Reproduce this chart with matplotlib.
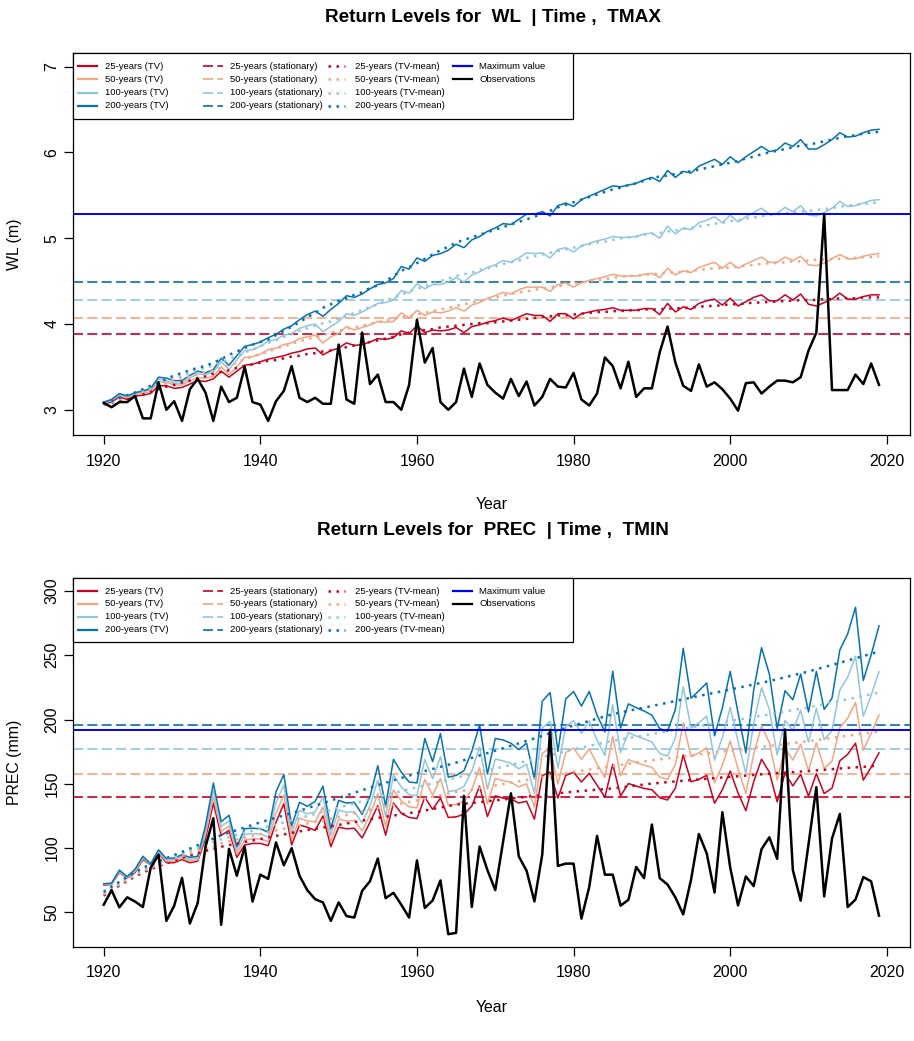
import matplotlib
matplotlib.use("Agg")
import matplotlib.pyplot as plt
from matplotlib.patches import Rectangle
from matplotlib.lines import Line2D

plt.rcParams['font.family'] = ['Liberation Sans', 'DejaVu Sans']

years = list(range(1920, 2020))

# ---------------- top panel: WL | Time, TMAX ----------------
wl_obs = [3.08, 3.03, 3.09, 3.09, 3.16, 2.90, 2.90, 3.32, 3.00, 3.10,
          2.87, 3.24, 3.36, 3.20, 2.87, 3.27, 3.09, 3.14, 3.50, 3.09,
          3.06, 2.87, 3.10, 3.22, 3.51, 3.14, 3.09, 3.14, 3.07, 3.07,
          3.76, 3.12, 3.07, 3.90, 3.30, 3.41, 3.09, 3.09, 3.00, 3.29,
          4.05, 3.55, 3.72, 3.09, 3.00, 3.09, 3.48, 3.15, 3.54, 3.29,
          3.20, 3.13, 3.36, 3.16, 3.33, 3.05, 3.15, 3.36, 3.27, 3.26,
          3.43, 3.12, 3.05, 3.19, 3.61, 3.51, 3.25, 3.56, 3.15, 3.25,
          3.25, 3.67, 3.97, 3.55, 3.28, 3.22, 3.53, 3.27, 3.32, 3.24,
          3.13, 2.99, 3.31, 3.32, 3.19, 3.27, 3.34, 3.34, 3.32, 3.38,
          3.69, 3.90, 5.28, 3.23, 3.23, 3.23, 3.41, 3.30, 3.54, 3.29]

wl_tv25 = [3.07, 3.09, 3.15, 3.12, 3.16, 3.17, 3.19, 3.28, 3.28, 3.25,
           3.26, 3.30, 3.34, 3.33, 3.36, 3.45, 3.38, 3.45, 3.52, 3.53,
           3.56, 3.59, 3.61, 3.63, 3.66, 3.68, 3.71, 3.72, 3.64, 3.69,
           3.72, 3.78, 3.75, 3.76, 3.79, 3.83, 3.82, 3.84, 3.92, 3.89,
           3.98, 3.90, 3.93, 3.92, 3.93, 3.96, 3.90, 3.97, 3.99, 4.02,
           4.04, 4.07, 4.04, 4.08, 4.12, 4.10, 4.10, 4.03, 4.12, 4.12,
           4.06, 4.12, 4.14, 4.16, 4.17, 4.19, 4.16, 4.16, 4.16, 4.18,
           4.18, 4.11, 4.24, 4.14, 4.20, 4.17, 4.24, 4.27, 4.29, 4.22,
           4.30, 4.21, 4.26, 4.31, 4.34, 4.27, 4.27, 4.34, 4.28, 4.35,
           4.23, 4.21, 4.25, 4.29, 4.36, 4.29, 4.29, 4.32, 4.34, 4.34]
wl_tv50 = [3.08, 3.11, 3.17, 3.14, 3.18, 3.19, 3.21, 3.33, 3.32, 3.29,
           3.29, 3.34, 3.37, 3.37, 3.39, 3.50, 3.41, 3.50, 3.61, 3.62,
           3.65, 3.70, 3.72, 3.76, 3.78, 3.83, 3.85, 3.87, 3.78, 3.85,
           3.89, 3.97, 3.93, 3.96, 3.99, 4.03, 4.02, 4.03, 4.13, 4.07,
           4.16, 4.10, 4.14, 4.13, 4.15, 4.19, 4.15, 4.22, 4.25, 4.30,
           4.33, 4.37, 4.35, 4.40, 4.43, 4.43, 4.43, 4.38, 4.46, 4.48,
           4.43, 4.48, 4.51, 4.53, 4.55, 4.58, 4.56, 4.56, 4.56, 4.58,
           4.59, 4.54, 4.65, 4.57, 4.62, 4.60, 4.66, 4.69, 4.72, 4.65,
           4.72, 4.65, 4.70, 4.74, 4.78, 4.72, 4.72, 4.78, 4.74, 4.79,
           4.69, 4.68, 4.71, 4.76, 4.81, 4.76, 4.76, 4.79, 4.81, 4.82]
wl_tv100 = [3.08, 3.11, 3.18, 3.15, 3.19, 3.21, 3.23, 3.36, 3.34, 3.31,
            3.31, 3.37, 3.42, 3.41, 3.44, 3.56, 3.47, 3.58, 3.69, 3.70,
            3.74, 3.80, 3.82, 3.87, 3.89, 3.95, 3.98, 4.00, 3.91, 3.97,
            4.03, 4.12, 4.10, 4.14, 4.19, 4.24, 4.25, 4.28, 4.39, 4.36,
            4.47, 4.41, 4.46, 4.46, 4.49, 4.54, 4.49, 4.57, 4.61, 4.66,
            4.69, 4.74, 4.72, 4.77, 4.83, 4.82, 4.83, 4.77, 4.87, 4.89,
            4.84, 4.91, 4.94, 4.97, 4.99, 5.02, 5.01, 5.01, 5.02, 5.05,
            5.06, 5.00, 5.14, 5.05, 5.12, 5.10, 5.18, 5.21, 5.25, 5.18,
            5.27, 5.19, 5.25, 5.30, 5.35, 5.28, 5.29, 5.36, 5.31, 5.38,
            5.27, 5.26, 5.30, 5.35, 5.43, 5.37, 5.38, 5.41, 5.44, 5.45]
wl_tv200 = [3.09, 3.12, 3.19, 3.16, 3.20, 3.22, 3.25, 3.38, 3.37, 3.34,
            3.34, 3.40, 3.45, 3.43, 3.47, 3.60, 3.52, 3.63, 3.74, 3.76,
            3.79, 3.84, 3.88, 3.94, 3.98, 4.05, 4.11, 4.15, 4.09, 4.17,
            4.24, 4.33, 4.31, 4.35, 4.41, 4.46, 4.48, 4.53, 4.67, 4.64,
            4.77, 4.73, 4.80, 4.82, 4.86, 4.93, 4.89, 4.98, 5.02, 5.08,
            5.12, 5.17, 5.16, 5.22, 5.28, 5.28, 5.31, 5.26, 5.38, 5.41,
            5.37, 5.45, 5.49, 5.53, 5.57, 5.61, 5.60, 5.62, 5.64, 5.68,
            5.71, 5.66, 5.79, 5.71, 5.78, 5.76, 5.84, 5.88, 5.92, 5.86,
            5.95, 5.88, 5.95, 6.01, 6.07, 6.01, 6.03, 6.11, 6.07, 6.15,
            6.04, 6.04, 6.09, 6.15, 6.23, 6.18, 6.19, 6.23, 6.26, 6.27]

wl_mean25 = [3.06, 3.08, 3.11, 3.13, 3.16, 3.18, 3.21, 3.24, 3.27, 3.29,
             3.32, 3.34, 3.37, 3.39, 3.42, 3.44, 3.46, 3.49, 3.51, 3.53,
             3.55, 3.57, 3.58, 3.60, 3.62, 3.63, 3.65, 3.66, 3.68, 3.69,
             3.71, 3.73, 3.75, 3.77, 3.79, 3.81, 3.83, 3.85, 3.88, 3.90,
             3.92, 3.93, 3.94, 3.96, 3.97, 3.98, 3.99, 4.00, 4.01, 4.01,
             4.02, 4.03, 4.04, 4.05, 4.06, 4.07, 4.08, 4.09, 4.10, 4.10,
             4.11, 4.12, 4.13, 4.14, 4.14, 4.15, 4.15, 4.16, 4.16, 4.17,
             4.17, 4.17, 4.18, 4.18, 4.19, 4.19, 4.20, 4.21, 4.21, 4.22,
             4.23, 4.23, 4.24, 4.25, 4.25, 4.26, 4.26, 4.27, 4.27, 4.28,
             4.28, 4.28, 4.29, 4.29, 4.30, 4.30, 4.30, 4.31, 4.31, 4.31]
wl_mean50 = [3.06, 3.09, 3.12, 3.15, 3.18, 3.21, 3.24, 3.28, 3.31, 3.34,
             3.37, 3.39, 3.41, 3.44, 3.46, 3.49, 3.52, 3.55, 3.59, 3.62,
             3.65, 3.68, 3.71, 3.74, 3.77, 3.80, 3.82, 3.85, 3.87, 3.90,
             3.92, 3.94, 3.96, 3.98, 4.00, 4.02, 4.04, 4.06, 4.08, 4.09,
             4.11, 4.13, 4.15, 4.17, 4.19, 4.21, 4.23, 4.25, 4.27, 4.29,
             4.31, 4.33, 4.35, 4.37, 4.38, 4.40, 4.41, 4.43, 4.44, 4.46,
             4.47, 4.48, 4.50, 4.51, 4.52, 4.54, 4.55, 4.56, 4.56, 4.57,
             4.58, 4.59, 4.60, 4.60, 4.61, 4.62, 4.63, 4.64, 4.65, 4.65,
             4.66, 4.67, 4.68, 4.69, 4.70, 4.71, 4.71, 4.72, 4.73, 4.73,
             4.74, 4.75, 4.75, 4.76, 4.76, 4.77, 4.77, 4.78, 4.78, 4.79]
wl_mean100 = [3.06, 3.09, 3.13, 3.16, 3.19, 3.23, 3.26, 3.30, 3.33, 3.37,
              3.40, 3.43, 3.46, 3.49, 3.52, 3.55, 3.59, 3.63, 3.67, 3.70,
              3.74, 3.78, 3.81, 3.85, 3.88, 3.92, 3.95, 3.98, 4.01, 4.03,
              4.06, 4.09, 4.13, 4.16, 4.20, 4.23, 4.27, 4.31, 4.34, 4.38,
              4.41, 4.44, 4.47, 4.50, 4.53, 4.56, 4.58, 4.60, 4.63, 4.65,
              4.67, 4.70, 4.72, 4.74, 4.77, 4.79, 4.81, 4.83, 4.85, 4.87,
              4.89, 4.91, 4.93, 4.95, 4.96, 4.98, 5.00, 5.01, 5.02, 5.04,
              5.05, 5.06, 5.08, 5.09, 5.11, 5.12, 5.14, 5.15, 5.17, 5.18,
              5.20, 5.21, 5.23, 5.24, 5.26, 5.27, 5.28, 5.29, 5.30, 5.31,
              5.32, 5.33, 5.34, 5.35, 5.37, 5.38, 5.39, 5.40, 5.41, 5.42]
wl_mean200 = [3.07, 3.10, 3.14, 3.17, 3.20, 3.24, 3.28, 3.32, 3.36, 3.40,
              3.43, 3.46, 3.49, 3.51, 3.55, 3.59, 3.64, 3.68, 3.72, 3.76,
              3.79, 3.82, 3.87, 3.92, 3.97, 4.02, 4.08, 4.13, 4.19, 4.23,
              4.27, 4.30, 4.34, 4.37, 4.42, 4.45, 4.50, 4.56, 4.62, 4.66,
              4.71, 4.76, 4.81, 4.86, 4.90, 4.95, 4.98, 5.01, 5.04, 5.07,
              5.10, 5.13, 5.16, 5.19, 5.22, 5.25, 5.29, 5.32, 5.36, 5.39,
              5.42, 5.45, 5.48, 5.51, 5.54, 5.57, 5.59, 5.62, 5.64, 5.67,
              5.70, 5.72, 5.73, 5.75, 5.77, 5.78, 5.80, 5.82, 5.84, 5.86,
              5.88, 5.90, 5.93, 5.95, 5.98, 6.00, 6.02, 6.04, 6.06, 6.08,
              6.09, 6.11, 6.13, 6.15, 6.17, 6.19, 6.20, 6.22, 6.23, 6.24]

wl_stationary = [3.888, 4.065, 4.275, 4.488]   # 25, 50, 100, 200 years
wl_max = 5.287

# ---------------- bottom panel: PREC | Time, TMIN ----------------
prec_obs = [55.9, 67.2, 53.9, 61.7, 58.4, 54.1, 84.8, 94.8, 43.3, 55.1,
            76.8, 41.3, 57.2, 101.1, 123.2, 40.3, 99.4, 78.5, 101.1, 58.4,
            79.3, 76.0, 104.4, 86.6, 99.9, 78.5, 67.2, 60.2, 57.7, 43.3,
            57.7, 47.1, 45.9, 66.7, 74.2, 91.8, 61.0, 65.2, 55.9, 45.9,
            90.4, 53.4, 59.2, 74.8, 33.0, 34.0, 140.6, 54.2, 101.2, 82.8,
            67.3, 105.0, 142.6, 93.6, 82.3, 58.5, 94.9, 192.0, 86.1, 87.9,
            87.9, 45.1, 69.8, 109.5, 79.3, 79.3, 55.2, 59.7, 85.3, 76.6,
            118.3, 76.6, 71.6, 61.6, 48.4, 75.4, 110.9, 95.9, 65.4, 127.9,
            84.9, 55.4, 77.9, 70.4, 99.1, 108.4, 91.6, 192.3, 82.9, 59.1,
            102.9, 147.4, 62.4, 107.4, 126.6, 54.1, 59.9, 77.4, 74.1, 47.4]

prec_tv25 = [71.0, 71.7, 81.0, 76.7, 81.0, 91.1, 86.8, 96.1, 88.6, 88.6,
             91.1, 88.6, 89.8, 107.4, 135.0, 109.9, 113.7, 92.8, 102.4, 103.6,
             103.6, 101.9, 120.0, 134.5, 102.4, 118.0, 116.2, 113.7, 125.0, 101.1,
             116.2, 115.0, 115.4, 107.9, 120.0, 133.0, 110.0, 135.1, 127.1, 123.8,
             123.0, 139.6, 130.1, 138.9, 123.8, 124.3, 126.3, 132.6, 148.2, 124.5,
             140.6, 138.9, 138.1, 135.1, 136.4, 122.5, 156.5, 159.0, 138.9, 156.5,
             159.0, 151.4, 158.2, 148.9, 139.6, 165.2, 140.6, 150.2, 148.2, 146.4,
             145.4, 139.1, 137.4, 146.6, 172.4, 151.6, 153.4, 156.6, 134.9, 145.4,
             159.9, 142.9, 129.1, 151.6, 169.1, 159.1, 135.9, 158.4, 148.4, 157.4,
             140.4, 157.9, 142.4, 146.6, 167.9, 172.9, 181.6, 152.9, 162.9, 174.1]
prec_tv50 = [71.4, 72.0, 81.5, 77.0, 81.8, 91.9, 87.1, 96.9, 89.6, 89.7,
             92.2, 89.9, 90.9, 110.4, 139.7, 113.1, 117.2, 95.3, 106.2, 107.2,
             107.0, 105.1, 127.1, 141.3, 106.8, 123.3, 121.1, 120.5, 131.9, 105.3,
             122.5, 121.0, 121.5, 113.4, 126.0, 142.3, 116.8, 145.3, 136.7, 132.1,
             131.3, 153.3, 141.3, 154.0, 133.2, 134.0, 136.5, 145.4, 162.5, 134.5,
             154.0, 152.5, 151.2, 147.6, 150.0, 131.9, 173.8, 177.6, 149.8, 174.4,
             177.8, 169.1, 177.3, 165.3, 154.8, 186.9, 156.4, 168.8, 166.5, 164.5,
             162.8, 155.2, 153.5, 165.0, 197.3, 171.1, 174.1, 178.1, 150.7, 164.5,
             183.2, 161.7, 142.6, 173.0, 195.1, 182.0, 153.0, 177.6, 168.5, 180.8,
             160.1, 181.8, 162.1, 167.6, 193.8, 201.0, 213.3, 176.2, 189.2, 203.7]
prec_tv100 = [71.8, 72.3, 82.2, 77.4, 82.6, 92.7, 87.4, 97.7, 90.7, 91.0,
              93.5, 91.3, 92.2, 113.9, 145.0, 116.7, 121.3, 98.1, 110.5, 111.2,
              110.9, 108.6, 135.2, 149.0, 111.7, 129.3, 126.6, 128.2, 139.8, 110.0,
              129.6, 127.8, 128.3, 119.6, 132.9, 152.8, 124.5, 156.8, 147.5, 141.5,
              140.7, 168.9, 153.9, 171.0, 143.9, 144.9, 148.0, 159.9, 178.7, 145.8,
              169.2, 167.8, 165.9, 161.7, 165.3, 142.6, 193.4, 198.7, 162.2, 194.6,
              199.2, 189.2, 198.9, 183.8, 172.1, 211.5, 174.4, 189.9, 187.2, 185.0,
              182.5, 173.5, 171.6, 185.8, 225.5, 193.2, 197.6, 202.6, 168.5, 186.2,
              209.5, 182.9, 157.9, 197.2, 224.7, 207.9, 172.4, 199.4, 191.3, 207.3,
              182.3, 208.8, 184.3, 191.4, 223.1, 232.9, 249.3, 202.5, 218.9, 237.3]
prec_tv200 = [72.2, 72.7, 82.8, 77.8, 83.5, 93.6, 87.8, 98.6, 91.8, 92.3,
              94.8, 92.8, 93.6, 117.5, 150.6, 120.5, 125.5, 101.1, 115.0, 115.5,
              115.0, 112.4, 143.8, 157.2, 117.0, 135.6, 132.5, 136.3, 148.1, 115.0,
              137.1, 135.0, 135.6, 126.2, 140.1, 164.0, 132.6, 169.0, 159.0, 151.4,
              150.7, 185.3, 167.3, 189.1, 155.2, 156.5, 160.2, 175.3, 195.9, 157.7,
              185.3, 184.1, 181.6, 176.6, 181.6, 153.9, 214.2, 221.0, 175.3, 216.0,
              221.8, 210.5, 221.8, 203.4, 190.4, 237.6, 193.4, 212.2, 209.2, 206.7,
              203.4, 192.9, 190.9, 207.9, 255.4, 216.6, 222.4, 228.4, 187.4, 209.1,
              237.4, 205.4, 174.1, 222.9, 255.9, 235.4, 192.9, 222.4, 215.4, 235.4,
              205.9, 237.4, 207.9, 216.6, 254.1, 266.6, 287.4, 230.4, 250.4, 272.9]

prec_mean25 = [63.0, 67.0, 70.8, 74.4, 77.8, 81.0, 83.5, 85.9, 88.1, 90.3,
               92.3, 94.2, 96.0, 97.8, 99.4, 101.0, 102.3, 103.5, 104.7, 105.9,
               107.0, 108.2, 109.4, 110.6, 111.8, 113.0, 114.0, 115.0, 116.0, 117.0,
               118.0, 119.1, 120.2, 121.3, 122.4, 123.5, 124.4, 125.3, 126.2, 127.2,
               128.1, 129.2, 130.4, 131.5, 132.7, 133.8, 134.5, 135.1, 135.8, 136.4,
               137.1, 137.8, 138.5, 139.2, 139.9, 140.6, 141.3, 141.9, 142.6, 143.2,
               143.9, 144.4, 144.9, 145.4, 145.9, 146.4, 147.2, 147.9, 148.7, 149.4,
               150.2, 150.7, 151.3, 151.8, 152.4, 152.9, 153.4, 153.9, 154.4, 154.9,
               155.4, 155.9, 156.4, 156.9, 157.4, 157.9, 158.3, 158.7, 159.1, 159.5,
               159.9, 160.4, 160.9, 161.4, 161.9, 162.4, 162.8, 163.2, 163.7, 164.1]
prec_mean50 = [63.9, 67.9, 71.7, 75.3, 78.8, 82.1, 84.6, 87.0, 89.3, 91.6,
               93.7, 95.8, 97.9, 99.9, 101.8, 103.7, 105.2, 106.7, 108.1, 109.5,
               110.9, 112.3, 113.7, 115.0, 116.4, 117.8, 119.1, 120.4, 121.7, 123.0,
               124.3, 125.7, 127.0, 128.4, 129.8, 131.2, 132.3, 133.5, 134.7, 136.0,
               137.1, 138.4, 139.7, 141.0, 142.3, 143.6, 144.7, 145.6, 146.7, 147.7,
               148.7, 149.8, 150.8, 151.9, 152.9, 154.0, 155.1, 156.2, 157.2, 158.3,
               159.4, 160.2, 161.1, 162.0, 162.9, 163.7, 164.7, 165.6, 166.5, 167.4,
               168.3, 169.0, 169.8, 170.6, 171.4, 172.1, 172.9, 173.6, 174.3, 175.1,
               175.8, 176.5, 177.3, 178.0, 178.8, 179.5, 180.2, 181.0, 181.7, 182.4,
               183.2, 184.0, 184.9, 185.7, 186.6, 187.4, 188.3, 189.1, 189.9, 190.7]
prec_mean100 = [64.9, 68.9, 72.7, 76.4, 79.9, 83.4, 85.9, 88.3, 90.7, 93.1,
                95.3, 97.7, 100.0, 102.3, 104.5, 106.8, 108.5, 110.2, 111.9, 113.6,
                115.3, 116.9, 118.5, 120.1, 121.7, 123.2, 124.9, 126.5, 128.2, 129.8,
                131.4, 133.1, 134.8, 136.5, 138.1, 139.8, 141.3, 142.8, 144.3, 145.9,
                147.4, 148.8, 150.3, 151.8, 153.2, 154.7, 156.2, 157.6, 159.0, 160.4,
                161.9, 163.3, 164.8, 166.3, 167.7, 169.2, 170.7, 172.3, 173.8, 175.3,
                176.9, 178.2, 179.5, 180.8, 182.1, 183.4, 184.5, 185.6, 186.7, 187.7,
                188.8, 189.8, 190.9, 191.9, 192.9, 193.9, 194.9, 196.0, 196.9, 197.9,
                198.9, 199.9, 200.9, 202.0, 203.0, 204.0, 205.1, 206.2, 207.3, 208.4,
                209.5, 210.8, 212.0, 213.3, 214.6, 215.8, 217.1, 218.4, 219.7, 221.0]
prec_mean200 = [66.0, 70.0, 73.8, 77.5, 81.1, 84.7, 87.2, 89.7, 92.2, 94.6,
                97.0, 99.6, 102.2, 104.8, 107.4, 110.0, 112.0, 114.0, 116.0, 118.0,
                120.0, 121.8, 123.6, 125.4, 127.2, 129.0, 131.0, 133.0, 135.0, 137.0,
                139.0, 141.0, 143.0, 145.0, 147.0, 149.0, 150.8, 152.7, 154.5, 156.4,
                158.2, 159.9, 161.5, 163.2, 164.8, 166.5, 168.4, 170.2, 172.1, 173.9,
                175.8, 177.7, 179.6, 181.5, 183.4, 185.3, 187.3, 189.4, 191.4, 193.4,
                195.4, 197.2, 198.9, 200.7, 202.4, 204.2, 205.5, 206.8, 208.0, 209.3,
                210.5, 211.8, 213.1, 214.4, 215.7, 217.0, 218.3, 219.6, 220.8, 222.1,
                223.4, 224.7, 226.0, 227.3, 228.6, 229.9, 231.4, 232.9, 234.4, 235.9,
                237.4, 239.1, 240.8, 242.5, 244.2, 245.9, 247.7, 249.4, 251.2, 252.9]

prec_stationary = [139.6, 157.5, 176.7, 196.1]
prec_max = 192.2

periods = ["25", "50", "100", "200"]
colors = ["#CA0020", "#F4A582", "#92C5DE", "#0571B0"]

W, H = 914, 1041
fig = plt.figure(figsize=(W / 100, H / 100), dpi=100)

DASHED = (0, (6, 2.6))
DOTTED = (0, (1, 2.2))


def draw_legend(ax, h_px, box_h):
    w_ax = 837.3
    fx = lambda p: p / w_ax
    fy = lambda p: 1 - p / h_px
    ax.add_patch(Rectangle((0, fy(box_h)), fx(500.3), box_h / h_px,
                           transform=ax.transAxes, facecolor="white",
                           edgecolor="black", lw=0.9, zorder=20, clip_on=False))
    rows = [box_h * f for f in (0.2, 0.4, 0.6, 0.8)]
    cols = [(5.6, 24.0, 32.3), (130.6, 150.6, 157.3),
            (255.6, 272.3, 282.3), (380.6, 399.0, 406.6)]
    entries = []
    for p, c in zip(periods, colors):
        entries.append((0, c, "-", 1.6, p + "-years (TV)"))
    for p, c in zip(periods, colors):
        entries.append((1, c, DASHED, 1.2, p + "-years (stationary)"))
    for p, c in zip(periods, colors):
        entries.append((2, c, DOTTED, 1.8, p + "-years (TV-mean)"))
    entries.append((3, "#0000FF", "-", 1.6, "Maximum value"))
    entries.append((3, "black", "-", 1.6, "Observations"))
    counts = [0, 0, 0, 0]
    for col, c, ls, lw, lab in entries:
        r = rows[counts[col]]
        counts[col] += 1
        x0, x1, xt = cols[col]
        ax.add_line(Line2D([fx(x0), fx(x1)], [fy(r), fy(r)], transform=ax.transAxes,
                           color=c, linestyle=ls, lw=lw, zorder=21, clip_on=False))
        ax.text(fx(xt), fy(r), lab, transform=ax.transAxes, fontsize=6.8,
                va="center", ha="left", zorder=22)


def panel(ax, obs, tv, means, stat, vmax, ylim, yticks, ylabel, h_px, box_h, xlab_px):
    for s, c in zip(stat, colors):
        ax.axhline(s, color=c, linestyle=DASHED, lw=1.2, zorder=2)
    for t, c in zip(tv, colors):
        ax.plot(years, t, color=c, lw=1.1, zorder=3)
    for m, c in zip(means, colors):
        ax.plot(years, m, color=c, linestyle=DOTTED, lw=1.8, zorder=4)
    ax.axhline(vmax, color="#0000FF", lw=1.4, zorder=5)
    ax.plot(years, obs, color="black", lw=1.8, zorder=6)
    ax.set_xlim(1916.04, 2022.96)
    ax.set_ylim(*ylim)
    ax.set_xticks([1920, 1940, 1960, 1980, 2000, 2020])
    ax.set_yticks(yticks)
    ax.tick_params(direction="out", length=6.5, width=0.9, labelsize=11.4, pad=7)
    ax.tick_params(axis="y", pad=3)
    plt.setp(ax.get_yticklabels(), rotation=90, va="center")
    for sp in ax.spines.values():
        sp.set_linewidth(0.9)
    ax.set_xlabel("Year", fontsize=11.4)
    ax.set_ylabel(ylabel, fontsize=11.4)
    ax.xaxis.set_label_coords(0.5, -xlab_px / h_px)
    ax.yaxis.set_label_coords(-0.061, 0.5)
    draw_legend(ax, h_px, box_h)


ax1 = fig.add_axes([72.7 / W, 1 - 435 / H, 837.3 / W, 382.3 / H])
panel(ax1, wl_obs, [wl_tv25, wl_tv50, wl_tv100, wl_tv200],
      [wl_mean25, wl_mean50, wl_mean100, wl_mean200],
      wl_stationary, wl_max, (2.706, 7.163), [3, 4, 5, 6, 7], "WL (m)",
      382.3, 66.6, 62)

ax2 = fig.add_axes([72.7 / W, 1 - 946.7 / H, 837.3 / W, 368.4 / H])
panel(ax2, prec_obs, [prec_tv25, prec_tv50, prec_tv100, prec_tv200],
      [prec_mean25, prec_mean50, prec_mean100, prec_mean200],
      prec_stationary, prec_max, (23.25, 309.9), [50, 100, 150, 200, 250, 300],
      "PREC (mm)", 368.4, 64.0, 53)

fig.text(493 / W, 1 - 22 / H, "Return Levels for  WL  | Time ,  TMAX",
         fontsize=13.7, fontweight="bold", ha="center", va="baseline")
fig.text(493 / W, 1 - 535 / H, "Return Levels for  PREC  | Time ,  TMIN",
         fontsize=13.7, fontweight="bold", ha="center", va="baseline")

fig.savefig("out.png", dpi=100)
